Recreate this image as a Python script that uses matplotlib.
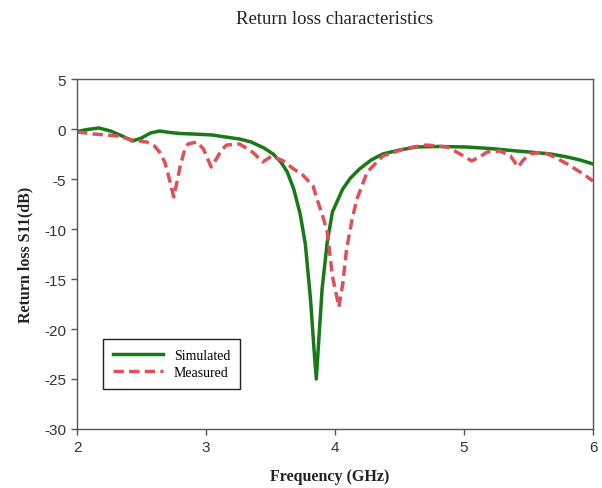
import matplotlib
matplotlib.use("Agg")
import matplotlib.pyplot as plt

plt.rcParams["axes.unicode_minus"] = False

# Simulated S11 (GHz, dB)
sim_freq = [2.00, 2.08, 2.17, 2.26, 2.35, 2.43, 2.50, 2.57, 2.64, 2.72, 2.80, 2.90,
            3.05, 3.15, 3.26, 3.35, 3.45, 3.52, 3.58, 3.63, 3.68, 3.73, 3.77, 3.81,
            3.84, 3.855, 3.87, 3.90, 3.94, 3.98, 4.06, 4.12, 4.19, 4.28, 4.37, 4.50,
            4.63, 4.80, 5.02, 5.20, 5.41, 5.55, 5.67, 5.80, 5.90, 6.00]
sim_s11 = [-0.25, -0.05, 0.1, -0.2, -0.7, -1.2, -0.9, -0.4, -0.2, -0.35, -0.45, -0.5,
           -0.6, -0.8, -1.0, -1.3, -1.9, -2.5, -3.3, -4.3, -6.0, -8.5, -11.5, -17.0,
           -22.5, -25.0, -22.0, -16.0, -11.3, -8.3, -6.0, -4.9, -4.0, -3.1, -2.5, -2.1,
           -1.8, -1.75, -1.8, -1.95, -2.2, -2.35, -2.5, -2.8, -3.1, -3.5]

# Measured S11 (GHz, dB)
meas_freq = [2.00, 2.13, 2.23, 2.31, 2.43, 2.54, 2.60, 2.64, 2.68, 2.71, 2.75, 2.78,
             2.80, 2.83, 2.86, 2.93, 2.98, 3.01, 3.04, 3.08, 3.12, 3.16, 3.26, 3.36,
             3.44, 3.51, 3.60, 3.68, 3.75, 3.83, 3.86, 3.90, 3.94, 3.98, 4.03, 4.06,
             4.09, 4.13, 4.17, 4.25, 4.37, 4.56, 4.71, 4.87, 4.97, 5.06, 5.12, 5.18,
             5.28, 5.36, 5.42, 5.46, 5.51, 5.61, 5.70, 5.80, 5.90, 6.00]
meas_s11 = [-0.3, -0.5, -0.6, -0.7, -1.1, -1.3, -1.7, -2.3, -3.3, -4.7, -6.8, -5.0,
            -3.7, -2.3, -1.5, -1.3, -2.0, -2.9, -3.8, -3.0, -2.1, -1.6, -1.5, -2.3,
            -3.3, -2.7, -3.2, -4.0, -4.6, -5.7, -7.0, -8.5, -10.3, -14.7, -17.8, -15.5,
            -12.0, -9.2, -7.0, -4.3, -2.7, -1.9, -1.6, -1.8, -2.5, -3.2, -2.8, -2.3,
            -2.2, -2.7, -3.8, -3.1, -2.5, -2.3, -2.8, -3.5, -4.3, -5.2]

x_ticks = [2, 3, 4, 5, 6]
y_ticks = [5, 0, -5, -10, -15, -20, -25, -30]

fig = plt.figure(figsize=(6.02, 4.89), dpi=100)
ax = fig.add_axes([77 / 602, 1 - 430 / 489, 516 / 602, 350 / 489])

ax.plot(sim_freq, sim_s11, color="#177a17", lw=2.5, solid_joinstyle="round", label="Simulated")
ax.plot(meas_freq, meas_s11, color="#e0505a", lw=2.5, dashes=(3, 1.5), label="Measured")

ax.set_xlim(2, 6)
ax.set_ylim(-30, 5)
ax.set_xticks(x_ticks)
ax.set_yticks(y_ticks)
ax.tick_params(direction="out", length=4, width=1, pad=4, labelsize=11,
               colors="#555555", labelcolor="#333333")
for lab in ax.get_xticklabels() + ax.get_yticklabels():
    lab.set_family("Liberation Sans")
for sp in ax.spines.values():
    sp.set_color("#555555")
    sp.set_linewidth(1)

fig.text(335 / 602, 1 - 19 / 489, "Return loss characteristics", ha="center", va="center",
         family="Liberation Serif", fontsize=13.5, color="#222222")
fig.text(330 / 602, 1 - 477 / 489, "Frequency (GHz)", ha="center", va="center",
         family="Liberation Serif", fontsize=11.5, fontweight="bold", color="#222222")
fig.text(25 / 602, 1 - 255 / 489, "Return loss S11(dB)", ha="center", va="center", rotation=90,
         family="Liberation Serif", fontsize=11.5, fontweight="bold", color="#222222")

leg = ax.legend(loc="upper left", bbox_to_anchor=(103 / 602, 1 - 340 / 489),
                bbox_transform=fig.transFigure, borderaxespad=0, fancybox=False,
                frameon=True, edgecolor="#222222", framealpha=1,
                prop={"family": "Liberation Serif", "size": 10},
                handlelength=3.6, handletextpad=0.8, labelspacing=0.3, borderpad=0.7)
leg.get_frame().set_linewidth(1)

fig.savefig("out.png", dpi=100)
